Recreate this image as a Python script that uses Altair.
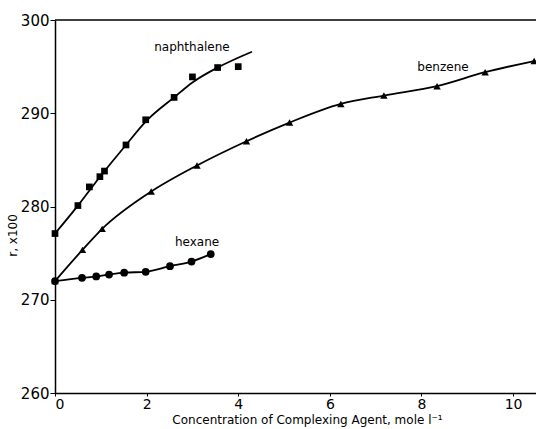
import altair as alt
import pandas as pd

# Data
naph_x = [0.0, 0.5, 0.75, 0.98, 1.08, 1.55, 1.98, 2.6, 3.0, 3.55, 4.0]
naph_y = [277.1, 280.1, 282.1, 283.2, 283.8, 286.6, 289.3, 291.7, 293.9, 294.9, 295.0]
naph_curve_x = [0.0, 0.5, 1.0, 1.55, 2.0, 2.6, 3.0, 3.55, 4.3]
naph_curve_y = [277.1, 280.1, 283.3, 286.6, 289.2, 291.7, 293.3, 294.9, 296.6]

benz_x = [0.0, 0.6, 1.03, 2.1, 3.1, 4.18, 5.12, 6.24, 7.18, 8.34, 9.39, 10.46]
benz_y = [272.0, 275.35, 277.6, 281.6, 284.4, 287.0, 289.0, 291.0, 291.9, 292.9, 294.4, 295.6]

hex_x = [0.0, 0.59, 0.9, 1.18, 1.51, 1.98, 2.51, 2.98, 3.4]
hex_y = [272.0, 272.35, 272.5, 272.7, 272.9, 273.0, 273.6, 274.1, 274.9]

label_text = ["naphthalene", "benzene", "hexane"]
label_x = [2.99, 8.47, 3.1]
label_y = [297.1, 295.0, 276.2]

x_ticks = [0, 2, 4, 6, 8, 10]
y_ticks = [260, 270, 280, 290, 300]

xs = alt.Scale(domain=[0, 10.5], nice=False, zero=False)
ys = alt.Scale(domain=[260, 300], nice=False, zero=False)

FONT = "DejaVu Sans"

xax = alt.Axis(values=x_ticks, title="Concentration of Complexing Agent, mole l\u207b\u00b9",
               grid=False, domainColor="black", domainWidth=1.5, tickColor="black", tickSize=3,
               labelFontSize=14, labelColor="black", labelFont=FONT, labelPadding=1,
               titleFont=FONT, titleFontSize=12, titleFontWeight="normal", titleColor="black",
               titlePadding=3, titleX=252)
yax = alt.Axis(values=y_ticks, title="r, x100",
               grid=False, domainColor="black", domainWidth=1.5, tickColor="black", tickSize=5,
               labelFontSize=15, labelColor="black", labelFont=FONT, labelPadding=1,
               titleFont=FONT, titleFontSize=12, titleFontWeight="normal", titleColor="black",
               titlePadding=0, titleY=215, titleX=-36)

naph_pts = pd.DataFrame({"x": naph_x, "y": naph_y})
naph_curve = pd.DataFrame({"x": naph_curve_x, "y": naph_curve_y})
benz = pd.DataFrame({"x": benz_x, "y": benz_y})
hexd = pd.DataFrame({"x": hex_x, "y": hex_y})
labels = pd.DataFrame({"t": label_text, "x": label_x, "y": label_y})

X = alt.X("x:Q", scale=xs, axis=xax)
Y = alt.Y("y:Q", scale=ys, axis=yax)

def enc(ch):
    return ch.encode(x=X, y=Y)

lines = [
    enc(alt.Chart(naph_curve).mark_line(color="black", strokeWidth=1.8, interpolate="monotone")),
    enc(alt.Chart(benz).mark_line(color="black", strokeWidth=1.8, interpolate="monotone")),
    enc(alt.Chart(hexd).mark_line(color="black", strokeWidth=1.8, interpolate="monotone")),
]
points = [
    enc(alt.Chart(naph_pts).mark_point(shape="square", filled=True, color="black", size=45, opacity=1)),
    enc(alt.Chart(benz).mark_point(shape="triangle-up", filled=True, color="black", size=55, opacity=1)),
    enc(alt.Chart(hexd).mark_point(shape="circle", filled=True, color="black", size=60, opacity=1)),
]
text = alt.Chart(labels).mark_text(font=FONT, fontSize=12, color="black").encode(
    x=X, y=Y, text="t:N",
)
top = alt.Chart(pd.DataFrame({"y": [300]})).mark_rule(color="black", strokeWidth=1.5).encode(
    y=Y
)

chart = alt.layer(*lines, *points, text, top).properties(
    width=481, height=373,
    autosize=alt.AutoSizeParams(type="none"),
    padding={"left": 55, "top": 20, "right": 0, "bottom": 36},
    background="white",
).configure_view(stroke=None)

chart.save("out.html", embed_options={"renderer": "svg", "actions": False})
